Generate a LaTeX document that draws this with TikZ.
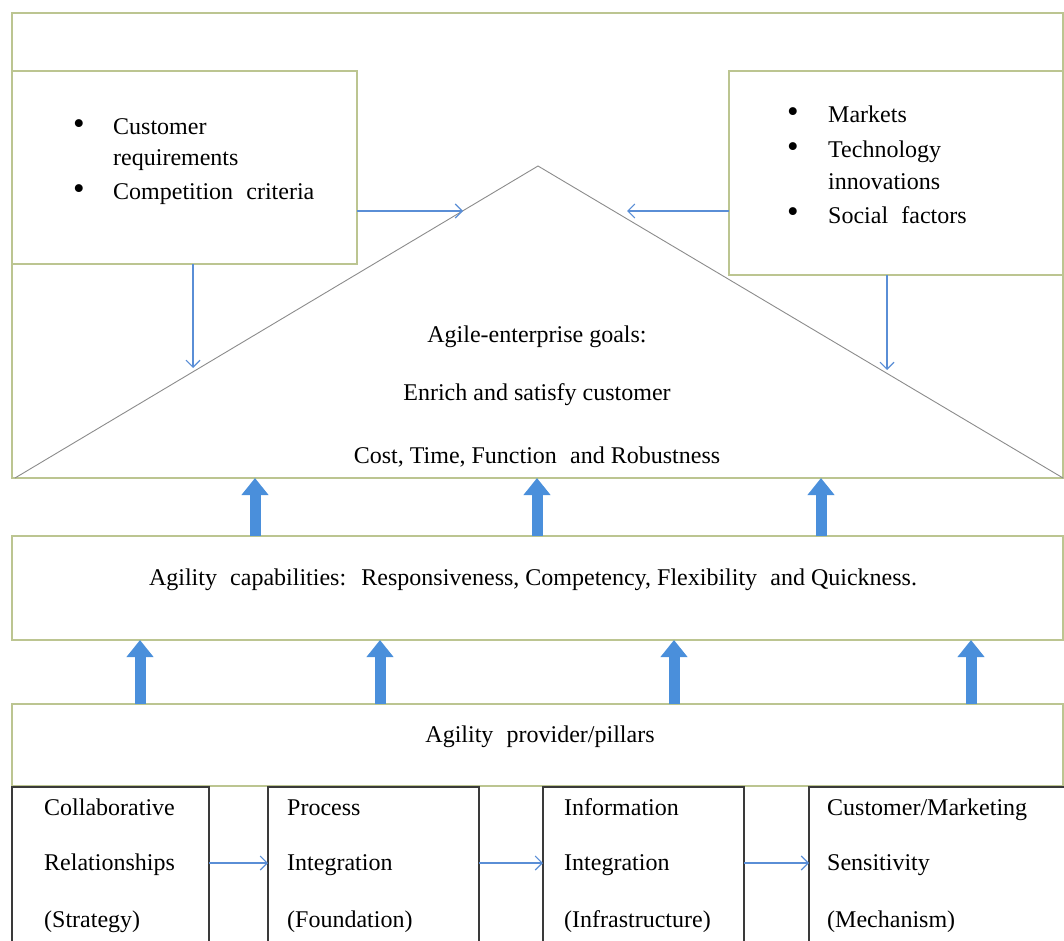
\documentclass[tikz,border=0pt]{standalone}
\usepackage{fontspec}
\setmainfont{Liberation Serif}
\usetikzlibrary{arrows.meta}
\definecolor{frameol}{HTML}{BCC591}
\definecolor{trigray}{HTML}{8C8C8C}
\definecolor{pillarc}{HTML}{3A3A3A}
\definecolor{thinblue}{HTML}{5A8ED6}
\definecolor{blockblue}{HTML}{4A8FDB}
\tikzset{
  frame/.style={draw=frameol, line width=1.2pt, fill=white, inner sep=0pt, outer sep=0pt, anchor=north west},
  pillar/.style={draw=pillarc, line width=1.4pt, inner sep=0pt, outer sep=0pt, anchor=north west, minimum height=170pt},
  txt/.style={font=\fontsize{24}{29}\selectfont, inner sep=0pt, anchor=base west},
  ctxt/.style={font=\fontsize{24}{29}\selectfont, inner sep=0pt, anchor=base},
  bul/.style={font=\fontsize{33}{36}\selectfont, inner sep=0pt, anchor=center},
  thinarrow/.style={draw=thinblue, line width=1.1pt, -{Straight Barb[length=7pt, width=14pt]}},
  blockarrow/.style={draw=blockblue, line width=11pt, -{Triangle[length=17pt, width=26pt]}}
}
\newcommand{\xsp}{\hspace{0.3em}}
\begin{document}
\begin{tikzpicture}[x=1pt, y=-1pt]
\useasboundingbox (0,0) rectangle (1064,941);
\clip (0,0) rectangle (1064,941);

% top frame with goals
\node[frame, minimum width=1051pt, minimum height=465pt] (goals) at (12,13) {};
\coordinate (tL) at (15,478);
\coordinate (tA) at (538,166);
\coordinate (tR) at (1063,478);
\draw[trigray, line width=0.9pt] (tL) -- (tA) -- (tR);

% side boxes
\node[frame, minimum width=345pt, minimum height=193pt] (lbox) at (12,71) {};
\node[frame, minimum width=334pt, minimum height=204pt] (rbox) at (729,71) {};

\node[bul] (lb1) at (79,127) {•};
\node[txt] (lt1) at (113,135) {Customer};
\node[txt] (lt2) at (113,166) {requirements};
\node[bul] (lb2) at (79,192) {•};
\node[txt] (lt3) at (113,200) {Competition\xsp{} criteria};

\node[bul] (rb1) at (793,115) {•};
\node[txt] (rt1) at (828,123) {Markets};
\node[bul] (rb2) at (793,150) {•};
\node[txt] (rt2) at (828,158) {Technology};
\node[txt] (rt3) at (828,190) {innovations};
\node[bul] (rb3) at (793,215) {•};
\node[txt] (rt4) at (828,223) {Social\xsp{} factors};

% goal texts
\node[ctxt] (g1) at (537,342) {Agile-enterprise goals:};
\node[ctxt] (g2) at (537,400) {Enrich and satisfy customer};
\node[ctxt] (g3) at (537,463) {Cost, Time, Function\xsp{} and Robustness};

% thin arrows to triangle
\coordinate (tl) at (463,211);
\coordinate (tr) at (627,211);
\coordinate (dl) at (193,368);
\coordinate (dr) at (887,370);
\draw[thinarrow] (lbox.east |- tl) -- (tl);
\draw[thinarrow] (rbox.west |- tr) -- (tr);
\draw[thinarrow] (lbox.south -| dl) -- (dl);
\draw[thinarrow] (rbox.south -| dr) -- (dr);

% capabilities box
\node[frame, minimum width=1051pt, minimum height=104pt] (cap) at (12,536) {};
\node[ctxt] (capt) at (533,585) {Agility\xsp{} capabilities:\xsp{} Responsiveness, Competency, Flexibility\xsp{} and Quickness.};

% provider box
\node[frame, minimum width=1051pt, minimum height=82pt] (prov) at (12,704) {};
\node[ctxt] (provt) at (540,742) {Agility\xsp{} provider/pillars};

% pillars
\node[pillar, minimum width=197pt] (p1) at (12,787) {};
\node[pillar, minimum width=211pt] (p2) at (268,787) {};
\node[pillar, minimum width=201pt] (p3) at (543,787) {};
\node[pillar, minimum width=270pt] (p4) at (809,787) {};

\node[txt] (p1a) at (44,815) {Collaborative};
\node[txt] (p1b) at (44,870) {Relationships};
\node[txt] (p1c) at (44,927) {(Strategy)};
\node[txt] (p2a) at (287,815) {Process};
\node[txt] (p2b) at (287,870) {Integration};
\node[txt] (p2c) at (287,927) {(Foundation)};
\node[txt] (p3a) at (564,815) {Information};
\node[txt] (p3b) at (564,870) {Integration};
\node[txt] (p3c) at (564,927) {(Infrastructure)};
\node[txt] (p4a) at (827,815) {Customer/Marketing};
\node[txt] (p4b) at (827,870) {Sensitivity};
\node[txt] (p4c) at (827,927) {(Mechanism)};

\coordinate (pa) at (0,863);
\draw[thinarrow] (p1.east |- pa) -- (p2.west |- pa);
\draw[thinarrow] (p2.east |- pa) -- (p3.west |- pa);
\draw[thinarrow] (p3.east |- pa) -- (p4.west |- pa);

% block arrows
\foreach \x in {243,525,809}{
  \draw[blockarrow] ([xshift=\x pt]cap.north west) -- ([xshift=\x pt]goals.south west);
}
\foreach \x in {128,368,662,959}{
  \draw[blockarrow] ([xshift=\x pt]prov.north west) -- ([xshift=\x pt]cap.south west);
}
\end{tikzpicture}
\end{document}
